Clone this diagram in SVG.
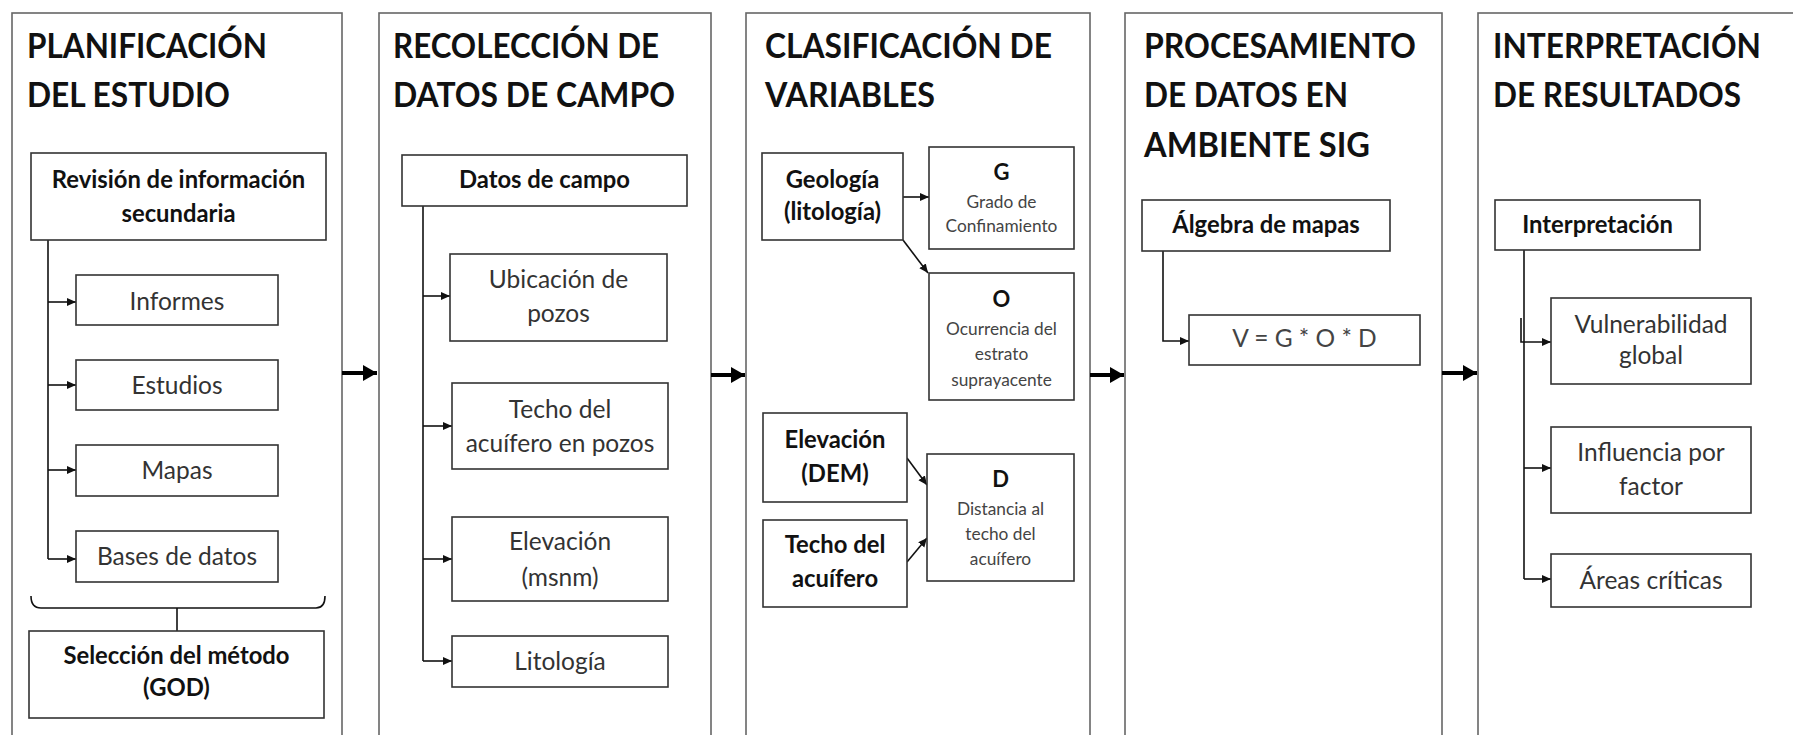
<svg xmlns="http://www.w3.org/2000/svg" width="1793" height="735" viewBox="0 0 1793 735">
<defs>
<style>
.panel{fill:#fff;stroke:#666;stroke-width:1.6}
.box{fill:#fff;stroke:#333;stroke-width:1.6}
.title{font-family:Lato,"Liberation Sans",sans-serif;font-weight:bold;font-size:34px;fill:#111}
.t{font-family:Lato,"Liberation Sans",sans-serif;font-size:24.5px;fill:#333;text-anchor:middle}
.b{font-family:Lato,"Liberation Sans",sans-serif;font-size:23.8px;font-weight:bold;fill:#111;text-anchor:middle}
.s{font-family:Lato,"Liberation Sans",sans-serif;font-size:17.3px;fill:#444;text-anchor:middle}
.sb{font-family:Lato,"Liberation Sans",sans-serif;font-size:22px;font-weight:bold;fill:#111;text-anchor:middle}
.c{fill:none;stroke:#111;stroke-width:1.6}
.big{fill:none;stroke:#000;stroke-width:4}
</style>
<marker id="ah" markerUnits="userSpaceOnUse" markerWidth="10" markerHeight="10" refX="9" refY="4" orient="auto">
<path d="M0,0 L9,4 L0,8 z" fill="#111"/>
</marker>
<marker id="bh" markerUnits="userSpaceOnUse" markerWidth="16" markerHeight="18" refX="14" refY="8" orient="auto">
<path d="M0,0 L14,8 L0,16 z" fill="#000"/>
</marker>
</defs>

<g id="panel-planificacion">
<rect class="panel" x="12" y="13" width="330" height="740"/>
<text class="title" x="27" y="58" textLength="240" lengthAdjust="spacingAndGlyphs">PLANIFICACIÓN</text>
<text class="title" x="27" y="107" textLength="203" lengthAdjust="spacingAndGlyphs">DEL ESTUDIO</text>
</g>
<g id="panel-recoleccion">
<rect class="panel" x="379" y="13" width="332" height="740"/>
<text class="title" x="393" y="58" textLength="266" lengthAdjust="spacingAndGlyphs">RECOLECCIÓN DE</text>
<text class="title" x="393" y="107" textLength="282" lengthAdjust="spacingAndGlyphs">DATOS DE CAMPO</text>
</g>
<g id="panel-clasificacion">
<rect class="panel" x="746" y="13" width="344" height="740"/>
<text class="title" x="765" y="58" textLength="287" lengthAdjust="spacingAndGlyphs">CLASIFICACIÓN DE</text>
<text class="title" x="765" y="107" textLength="170" lengthAdjust="spacingAndGlyphs">VARIABLES</text>
</g>
<g id="panel-procesamiento">
<rect class="panel" x="1125" y="13" width="317" height="740"/>
<text class="title" x="1144" y="58" textLength="272" lengthAdjust="spacingAndGlyphs">PROCESAMIENTO</text>
<text class="title" x="1144" y="107" textLength="204" lengthAdjust="spacingAndGlyphs">DE DATOS EN</text>
<text class="title" x="1144" y="157" textLength="226" lengthAdjust="spacingAndGlyphs">AMBIENTE SIG</text>
</g>
<g id="panel-interpretacion">
<rect class="panel" x="1478" y="13" width="330" height="740"/>
<text class="title" x="1493" y="58" textLength="268" lengthAdjust="spacingAndGlyphs">INTERPRETACIÓN</text>
<text class="title" x="1493" y="107" textLength="248" lengthAdjust="spacingAndGlyphs">DE RESULTADOS</text>
</g>

<g id="connectors">
<path class="big" d="M342,373 L377,373" marker-end="url(#bh)"/>
<path class="big" d="M711,375 L745,375" marker-end="url(#bh)"/>
<path class="big" d="M1090,375 L1124,375" marker-end="url(#bh)"/>
<path class="big" d="M1442,373 L1477,373" marker-end="url(#bh)"/>
<path class="c" d="M48,240 L48,559"/>
<path class="c" d="M48,302 L76,302" marker-end="url(#ah)"/>
<path class="c" d="M48,385 L76,385" marker-end="url(#ah)"/>
<path class="c" d="M48,470 L76,470" marker-end="url(#ah)"/>
<path class="c" d="M48,559 L76,559" marker-end="url(#ah)"/>
<path class="c" d="M31,596 Q31,608 41,608 L316,608 Q325,608 325,596"/>
<path class="c" d="M177,608 L177,631"/>
<path class="c" d="M423,206 L423,661"/>
<path class="c" d="M423,296 L450,296" marker-end="url(#ah)"/>
<path class="c" d="M423,426 L452,426" marker-end="url(#ah)"/>
<path class="c" d="M423,559 L452,559" marker-end="url(#ah)"/>
<path class="c" d="M423,661 L452,661" marker-end="url(#ah)"/>
<path class="c" d="M903,197 L929,197" marker-end="url(#ah)"/>
<path class="c" d="M903,240 L928,273" marker-end="url(#ah)"/>
<path class="c" d="M907,458 L927,485" marker-end="url(#ah)"/>
<path class="c" d="M907,562 L927,538" marker-end="url(#ah)"/>
<path class="c" d="M1163,251 L1163,341 L1189,341" marker-end="url(#ah)"/>
<path class="c" d="M1524,250 L1524,579"/>
<path class="c" d="M1521,318 L1521,342 L1551,342" marker-end="url(#ah)"/>
<path class="c" d="M1524,468 L1551,468" marker-end="url(#ah)"/>
<path class="c" d="M1524,579 L1551,579" marker-end="url(#ah)"/>
</g>

<g id="n-revision"><rect class="box" x="31" y="153" width="295" height="87"/>
<text class="b" x="178.5" y="188">Revisión de información</text><text class="b" x="178.5" y="222">secundaria</text></g>
<g id="n-informes"><rect class="box" x="76" y="275" width="202" height="50"/><text class="t" x="177" y="310">Informes</text></g>
<g id="n-estudios"><rect class="box" x="76" y="360" width="202" height="50"/><text class="t" x="177" y="394">Estudios</text></g>
<g id="n-mapas"><rect class="box" x="76" y="445" width="202" height="51"/><text class="t" x="177" y="479">Mapas</text></g>
<g id="n-bases"><rect class="box" x="76" y="531" width="202" height="51"/><text class="t" x="177" y="565">Bases de datos</text></g>
<g id="n-seleccion"><rect class="box" x="29" y="631" width="295" height="87"/>
<text class="b" x="176.5" y="664">Selección del método</text><text class="b" x="176.5" y="696">(GOD)</text></g>

<g id="n-datos"><rect class="box" x="402" y="155" width="285" height="51"/><text class="b" x="544.5" y="188">Datos de campo</text></g>
<g id="n-ubicacion"><rect class="box" x="450" y="254" width="217" height="87"/>
<text class="t" x="558.5" y="288">Ubicación de</text><text class="t" x="558.5" y="322">pozos</text></g>
<g id="n-techo-pozos"><rect class="box" x="452" y="383" width="216" height="86"/>
<text class="t" x="560" y="418">Techo del</text><text class="t" x="560" y="452">acuífero en pozos</text></g>
<g id="n-elev-msnm"><rect class="box" x="452" y="517" width="216" height="84"/>
<text class="t" x="560" y="550">Elevación</text><text class="t" x="560" y="586">(msnm)</text></g>
<g id="n-litologia"><rect class="box" x="452" y="636" width="216" height="51"/><text class="t" x="560" y="670">Litología</text></g>

<g id="n-geologia"><rect class="box" x="762" y="153" width="141" height="87"/>
<text class="b" x="832.5" y="188">Geología</text><text class="b" x="832.5" y="220">(litología)</text></g>
<g id="n-g"><rect class="box" x="929" y="147" width="145" height="102"/>
<text class="sb" x="1001.5" y="180">G</text><text class="s" x="1001.5" y="208">Grado de</text><text class="s" x="1001.5" y="232">Confinamiento</text></g>
<g id="n-o"><rect class="box" x="929" y="273" width="145" height="127"/>
<text class="sb" x="1001.5" y="307">O</text><text class="s" x="1001.5" y="335">Ocurrencia del</text><text class="s" x="1001.5" y="360">estrato</text><text class="s" x="1001.5" y="386">suprayacente</text></g>
<g id="n-elev-dem"><rect class="box" x="763" y="413" width="144" height="89"/>
<text class="b" x="835" y="448">Elevación</text><text class="b" x="835" y="482">(DEM)</text></g>
<g id="n-techo"><rect class="box" x="763" y="520" width="144" height="87"/>
<text class="b" x="835" y="553">Techo del</text><text class="b" x="835" y="587">acuífero</text></g>
<g id="n-d"><rect class="box" x="927" y="454" width="147" height="127"/>
<text class="sb" x="1000.5" y="487">D</text><text class="s" x="1000.5" y="515">Distancia al</text><text class="s" x="1000.5" y="540">techo del</text><text class="s" x="1000.5" y="565">acuífero</text></g>

<g id="n-algebra"><rect class="box" x="1142" y="200" width="248" height="51"/><text class="b" x="1266" y="233">Álgebra de mapas</text></g>
<g id="n-formula"><rect class="box" x="1189" y="315" width="231" height="50"/><text class="t" x="1304.5" y="347" style="fill:#444">V = G * O * D</text></g>

<g id="n-interp"><rect class="box" x="1495" y="200" width="205" height="50"/><text class="b" x="1597.5" y="233">Interpretación</text></g>
<g id="n-vulner"><rect class="box" x="1551" y="298" width="200" height="86"/>
<text class="t" x="1651" y="333">Vulnerabilidad</text><text class="t" x="1651" y="364">global</text></g>
<g id="n-influencia"><rect class="box" x="1551" y="427" width="200" height="86"/>
<text class="t" x="1651" y="461">Influencia por</text><text class="t" x="1651" y="495">factor</text></g>
<g id="n-areas"><rect class="box" x="1551" y="554" width="200" height="53"/><text class="t" x="1651" y="589">Áreas críticas</text></g>
</svg>
